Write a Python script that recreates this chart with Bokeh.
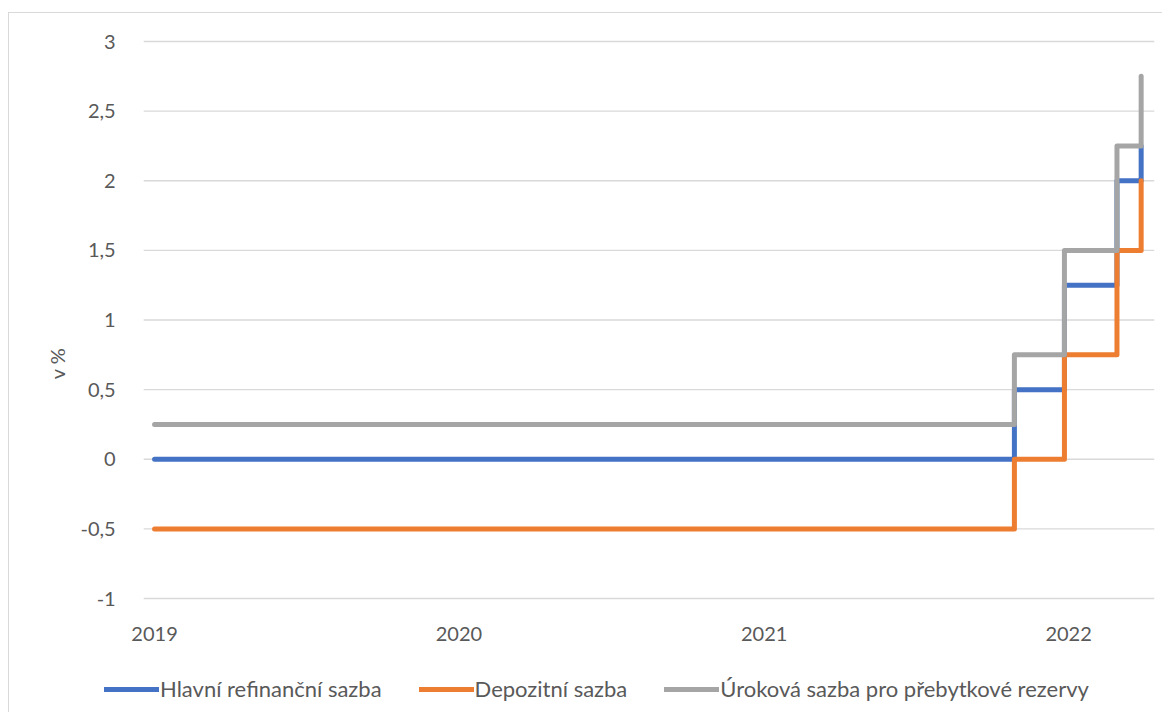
import pandas as pd
from bokeh.plotting import figure
from bokeh.models import FixedTicker, DatetimeTickFormatter, Range1d, Legend, LegendItem
from bokeh.embed import file_html
from bokeh.resources import INLINE

# ---- data ----
dates = ["2019-01-01", "2021-10-28", "2021-12-27", "2022-02-28", "2022-03-29"]
main_refi = [0.0, 0.5, 1.25, 2.0, 2.25]
deposit = [-0.5, 0.0, 0.75, 1.5, 2.0]
excess_reserves = [0.25, 0.75, 1.5, 2.25, 2.75]
series_names = ["Hlavní refinanční sazba", "Depozitní sazba", "Úroková sazba pro přebytkové rezervy"]
series_colors = ["#4472C4", "#ED7D31", "#A5A5A5"]
year_ticks = ["2019-01-01", "2020-01-01", "2021-01-01", "2022-01-01"]
y_ticks = [-1, -0.5, 0, 0.5, 1, 1.5, 2, 2.5, 3]
y_tick_labels = ["-1", "-0,5", "0", "0,5", "1", "1,5", "2", "2,5", "3"]
plot_start, plot_end = "2018-12-19", "2022-04-14"   # extent of the plotting area

x = pd.to_datetime(dates)
FONT = "Lato"


def ms(ts):
    return float(pd.Timestamp(ts).value // 10**6)


# geometry (pixels)
FRAME_TOP, FRAME_BOTTOM = 14, 714
Y3_PX, YM1_PX = 42, 599
ppu = (YM1_PX - Y3_PX) / 4.0
y_max = 3 + (Y3_PX - FRAME_TOP) / ppu
y_min = -1 - (FRAME_BOTTOM - YM1_PX) / ppu

ppd = 304.5 / 365.25            # pixels per day
x0 = pd.Timestamp("2019-01-01") - pd.Timedelta(days=(153 - 8) / ppd)
x1 = pd.Timestamp(plot_end)

p = figure(width=1154, height=700, output_backend="svg", toolbar_location=None,
           x_axis_type="datetime",
           x_range=Range1d(x0, x1), y_range=Range1d(y_min, y_max),
           min_border_left=0, min_border_right=9, min_border_top=0, min_border_bottom=0)
p.margin = (12, 0, 0, 8)
p.styles = {"border-left": "1px solid #d9d9d9", "border-top": "1px solid #d9d9d9"}
p.outline_line_color = None
p.background_fill_color = "white"
p.border_fill_color = "white"

# horizontal gridlines across the plotting area
p.xgrid.grid_line_color = None
p.ygrid.grid_line_color = None
gs, ge = pd.Timestamp(plot_start), pd.Timestamp(plot_end)
p.segment(x0=[gs] * len(y_ticks), x1=[ge] * len(y_ticks), y0=y_ticks, y1=y_ticks,
          line_color="#d9d9d9", line_width=1.3)

renderers = []
for ys, c in zip([main_refi, deposit, excess_reserves], series_colors):
    r = p.step(x, ys, mode="after", line_color=c, line_width=5,
               line_cap="round", line_join="round")
    renderers.append(r)

# axes
p.xaxis.ticker = FixedTicker(ticks=[ms(d) for d in year_ticks])
p.xaxis.fixed_location = -1
p.xaxis.formatter = DatetimeTickFormatter(years="%Y", months="%Y", days="%Y", hours="%Y",
                                          minutes="%Y", seconds="%Y", milliseconds="%Y",
                                          microseconds="%Y")
p.yaxis.ticker = FixedTicker(ticks=y_ticks)
p.yaxis.fixed_location = ms(plot_start)
p.yaxis.major_label_overrides = {t: l for t, l in zip(y_ticks, y_tick_labels)}
for ax in [p.xaxis[0], p.yaxis[0]]:
    ax.axis_line_color = None
    ax.major_tick_line_color = None
    ax.minor_tick_line_color = None
    ax.major_label_text_font = FONT
    ax.major_label_text_font_size = "20px"
    ax.major_label_text_color = "#595959"
p.xaxis.major_label_standoff = 22
p.yaxis.major_label_standoff = 22
p.yaxis.axis_label = "v %"
p.yaxis.axis_label_text_font = FONT
p.yaxis.axis_label_text_font_size = "20px"
p.yaxis.axis_label_text_font_style = "normal"
p.yaxis.axis_label_text_color = "#595959"
p.yaxis.axis_label_standoff = 8

legend = Legend(items=[LegendItem(label=n, renderers=[r]) for n, r in zip(series_names, renderers)],
                orientation="horizontal", location=(95, 11),
                glyph_width=55, glyph_height=20, label_standoff=1, spacing=37,
                padding=0, margin=0, border_line_color=None, background_fill_alpha=0,
                label_text_font=FONT, label_text_font_size="22px", label_text_color="#595959")
p.add_layout(legend, "center")

open("out.html", "w").write(file_html(p, INLINE))
